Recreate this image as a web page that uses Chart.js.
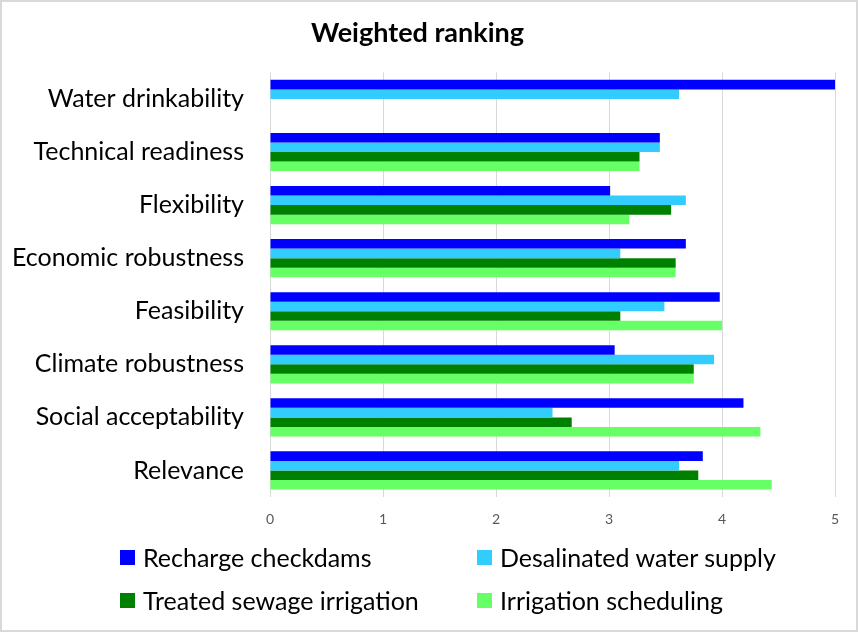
<!DOCTYPE html>
<html>
<head>
<meta charset="utf-8">
<script src="https://cdn.jsdelivr.net/npm/chart.js@4"></script>
<style>
  body { margin: 0; background: #fff; }
  #wrap { position: relative; width: 858px; height: 632px; }
  #frame { position: absolute; left: 0; top: 0; width: 854px; height: 628px; border: 2px solid #d9d9d9; pointer-events: none; }
  #legend { position: absolute; left: 0; top: 542px; width: 858px; font-family: Lato, sans-serif; font-size: 25px; color: #000; }
  .item { position: absolute; display: flex; align-items: center; white-space: nowrap; line-height: 30px; }
  .box { width: 15px; height: 15px; margin-right: 8px; }
</style>
</head>
<body>
<div id="wrap">
  <canvas id="ranking" width="858" height="632"></canvas>
  <div id="legend"></div>
  <div id="frame"></div>
</div>
<script>
// criteria, top to bottom
categories = ['Water drinkability', 'Technical readiness', 'Flexibility', 'Economic robustness',
              'Feasibility', 'Climate robustness', 'Social acceptability', 'Relevance']

series_names = ['Recharge checkdams', 'Desalinated water supply', 'Treated sewage irrigation', 'Irrigation scheduling']
colors = ['#0000ff', '#33ccff', '#008000', '#66ff66']

recharge = [5.0, 3.45, 3.01, 3.68, 3.98, 3.05, 4.19, 3.83]
desalinated = [3.62, 3.45, 3.68, 3.10, 3.49, 3.93, 2.50, 3.62]
treated_sewage = [null, 3.27, 3.55, 3.59, 3.10, 3.75, 2.67, 3.79]
irrigation_sched = [null, 3.27, 3.18, 3.59, 4.00, 3.75, 4.34, 4.44]

x_ticks = [0, 1, 2, 3, 4, 5]

var values = [recharge, desalinated, treated_sewage, irrigation_sched]
var datasets = []
for (var i = 0; i < series_names.length; i++)
{
    datasets.push({
        label: series_names[i],
        backgroundColor: colors[i],
        data: values[i],
        categoryPercentage: 0.72,
        barPercentage: 1.0
    })
}

var chart = new Chart(document.getElementById('ranking'),
{
    type: 'bar',
    data: { labels: categories, datasets: datasets },
    options:
    {
        indexAxis: 'y',
        responsive: false,
        animation: false,
        layout: { padding: { top: 0, right: 23, bottom: 92, left: 0 } },
        plugins:
        {
            legend: { display: false },
            tooltip: { enabled: false },
            title:
            {
                display: true,
                text: 'Weighted ranking',
                color: '#000',
                font: { family: 'Lato', size: 27, weight: 'bold' },
                padding: { top: 17, bottom: 23 }
            }
        },
        scales:
        {
            x:
            {
                min: x_ticks[0],
                max: x_ticks[x_ticks.length - 1],
                afterBuildTicks: function (scale) { scale.ticks = x_ticks.map(function (v) { return { value: v } }) },
                grid: { color: '#d9d9d9', drawTicks: false },
                border: { display: false },
                ticks: { color: '#595959', font: { family: 'Lato', size: 14 }, padding: 14 },
                afterFit: function (scale) { scale.height = 43 }
            },
            y:
            {
                grid: { display: false, drawTicks: false },
                border: { display: false },
                ticks: { color: '#000', font: { family: 'Lato', size: 25 }, padding: 26 },
                afterFit: function (scale) { scale.width = 270 }
            }
        }
    }
});

// legend in two columns, like the original
var legend = document.getElementById('legend')
var spots = [[120, 0], [477, 0], [120, 43], [477, 43]]
chart.data.datasets.forEach(function (ds, i)
{
    var item = document.createElement('div')
    item.className = 'item'
    item.style.left = spots[i][0] + 'px'
    item.style.top = spots[i][1] + 'px'
    item.innerHTML = '<span class="box" style="background:' + ds.backgroundColor + '"></span>' + ds.label
    legend.appendChild(item)
})
</script>
</body>
</html>
